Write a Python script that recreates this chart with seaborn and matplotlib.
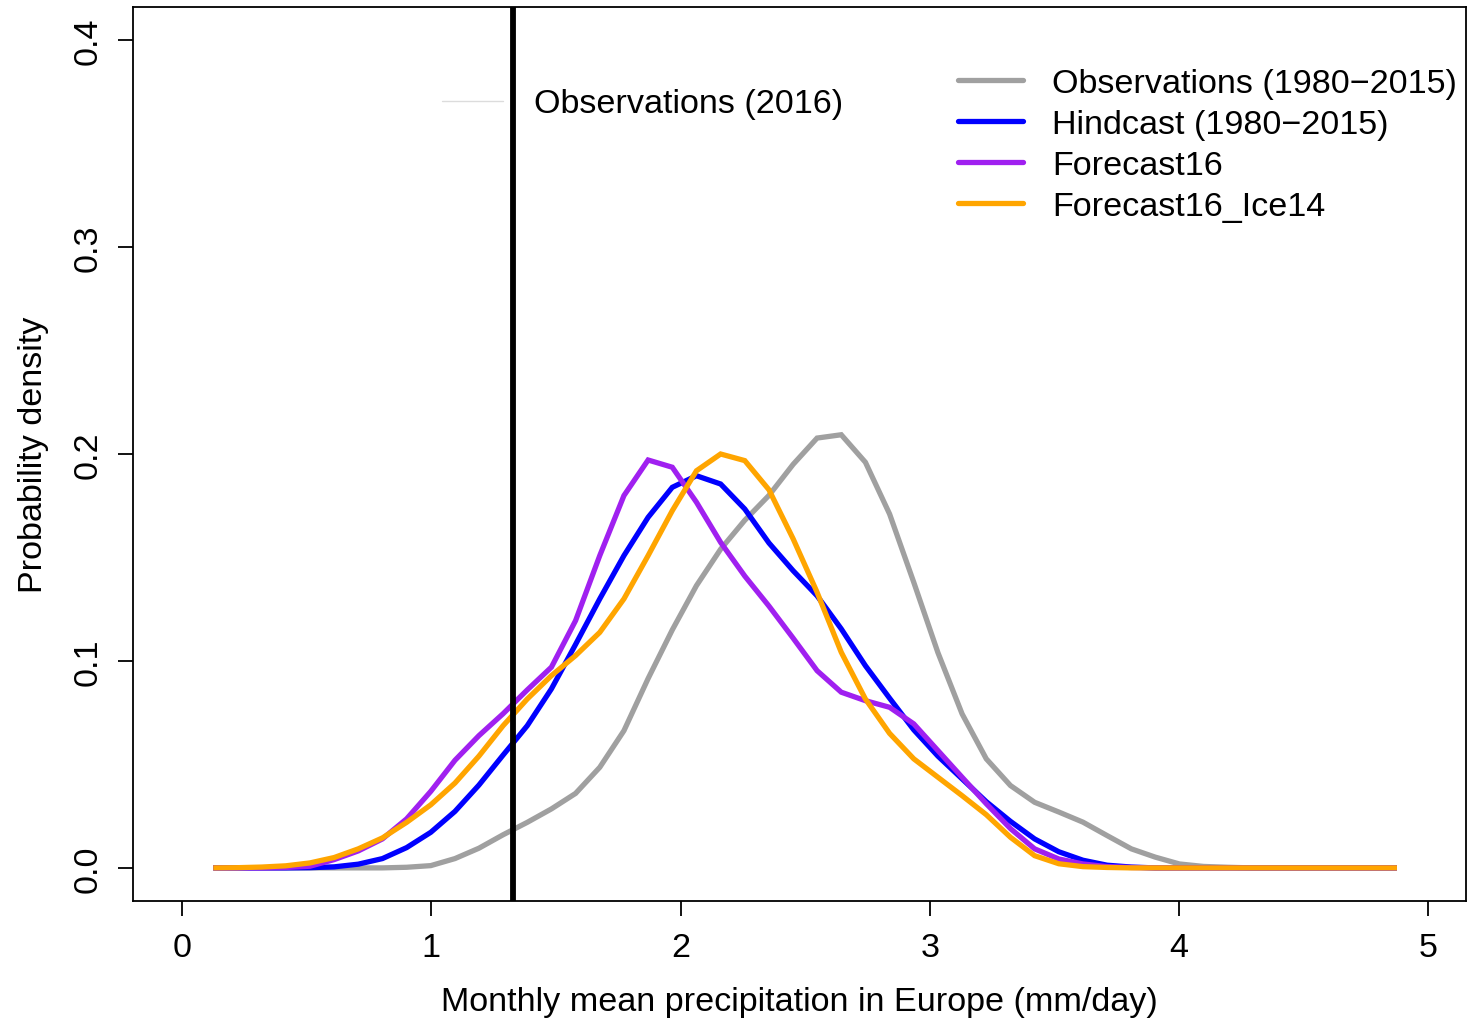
import numpy as np
import pandas as pd
import matplotlib
matplotlib.use("Agg")
import matplotlib.pyplot as plt
from matplotlib.lines import Line2D
import seaborn as sns

# Kernel density evaluation grid (mm/day)
precip_grid = [0.125, 0.222, 0.319, 0.416, 0.513, 0.610, 0.707, 0.804, 0.901, 0.998,
               1.095, 1.191, 1.288, 1.385, 1.482, 1.579, 1.676, 1.773, 1.870, 1.967,
               2.064, 2.161, 2.258, 2.355, 2.452, 2.548, 2.645, 2.742, 2.839, 2.936,
               3.033, 3.130, 3.227, 3.324, 3.421, 3.518, 3.615, 3.712, 3.809, 3.905,
               4.002, 4.099, 4.196, 4.293, 4.390, 4.487, 4.584, 4.681, 4.778, 4.875]

dens_obs = [0.0, 0.0, 0.0, 0.0, 0.0, 0.0, 0.0, 0.0, 0.0003, 0.0011,
            0.0045, 0.0095, 0.0160, 0.0220, 0.0285, 0.0360, 0.0486, 0.0663, 0.0915, 0.1150,
            0.1364, 0.1540, 0.1680, 0.1800, 0.1950, 0.2077, 0.2093, 0.1960, 0.1710, 0.1380,
            0.1040, 0.0744, 0.0527, 0.0398, 0.0317, 0.0270, 0.0221, 0.0156, 0.0092, 0.0052,
            0.0019, 0.0007, 0.0003, 0.0, 0.0, 0.0, 0.0, 0.0, 0.0, 0.0]

dens_hindcast = [0.0, 0.0, 0.0, 0.0, 0.0001, 0.0005, 0.0018, 0.0045, 0.0098, 0.0172,
                 0.0273, 0.0400, 0.0545, 0.0687, 0.0865, 0.1080, 0.1300, 0.1509, 0.1694, 0.1839,
                 0.1895, 0.1855, 0.1734, 0.1570, 0.1436, 0.1315, 0.1155, 0.0977, 0.0820, 0.0667,
                 0.0540, 0.0430, 0.0320, 0.0225, 0.0140, 0.0078, 0.0037, 0.0013, 0.0004, 0.0,
                 0.0, 0.0, 0.0, 0.0, 0.0, 0.0, 0.0, 0.0, 0.0, 0.0]

dens_fc16 = [0.0, 0.0, 0.0, 0.0002, 0.0008, 0.0040, 0.0082, 0.0140, 0.0237, 0.0370,
             0.0520, 0.0639, 0.0745, 0.0860, 0.0970, 0.1195, 0.1509, 0.1799, 0.1971, 0.1936,
             0.1767, 0.1573, 0.1410, 0.1265, 0.1110, 0.0953, 0.0849, 0.0808, 0.0776, 0.0696,
             0.0567, 0.0438, 0.0310, 0.0190, 0.0092, 0.0043, 0.0019, 0.0006, 0.0002, 0.0,
             0.0, 0.0, 0.0, 0.0, 0.0, 0.0, 0.0, 0.0, 0.0, 0.0]

dens_fc16_ice14 = [0.0, 0.0001, 0.0004, 0.0010, 0.0024, 0.0050, 0.0092, 0.0145, 0.0220, 0.0305,
                   0.0410, 0.0540, 0.0687, 0.0816, 0.0929, 0.1026, 0.1138, 0.1300, 0.1509, 0.1726,
                   0.1919, 0.2000, 0.1968, 0.1827, 0.1590, 0.1332, 0.1042, 0.0816, 0.0650, 0.0527,
                   0.0438, 0.0349, 0.0257, 0.0148, 0.0059, 0.0020, 0.0006, 0.0002, 0.0, 0.0,
                   0.0, 0.0, 0.0, 0.0, 0.0, 0.0, 0.0, 0.0, 0.0, 0.0]

obs_2016 = 1.328

series_names = ["Observations (1980\u22122015)", "Hindcast (1980\u22122015)",
                "Forecast16", "Forecast16_Ice14"]
series_colors = ["#A0A0A0", "#0000FF", "#A020F0", "#FFA500"]
x_ticks = [0, 1, 2, 3, 4, 5]
y_ticks = [0.0, 0.1, 0.2, 0.3, 0.4]
y_tick_labels = ["0.0", "0.1", "0.2", "0.3", "0.4"]

frames = []
for name, vals in zip(series_names, [dens_obs, dens_hindcast, dens_fc16, dens_fc16_ice14]):
    frames.append(pd.DataFrame({"precip": precip_grid, "density": vals, "series": name}))
df = pd.concat(frames, ignore_index=True)

sns.set_style("ticks")
plt.rcParams["font.family"] = ["Liberation Sans", "DejaVu Sans"]
plt.rcParams["text.color"] = "black"
plt.rcParams["axes.labelcolor"] = "black"
plt.rcParams["xtick.color"] = "black"
plt.rcParams["ytick.color"] = "black"
plt.rcParams["xtick.labelcolor"] = "black"
plt.rcParams["ytick.labelcolor"] = "black"
FS = 24.6

fig = plt.figure(figsize=(14.68, 10.20), dpi=100)
fig.subplots_adjust(left=133 / 1468, right=1466 / 1468, top=1 - 8 / 1020, bottom=1 - 902 / 1020)
ax = fig.add_subplot(111)

LW = 3.8
sns.lineplot(data=df, x="precip", y="density", hue="series", hue_order=series_names,
             palette=series_colors, linewidth=LW, sort=False, estimator=None,
             legend=False, ax=ax)
for ln in ax.lines:
    ln.set_solid_capstyle("butt")
    ln.set_solid_joinstyle("miter")

ax.axvline(obs_2016, color="black", linewidth=4.2, zorder=5)

ax.set_xlim(-0.197, 5.152)
ax.set_ylim(-0.016, 0.416)
ax.set_xticks(x_ticks)
ax.set_xticklabels([str(t) for t in x_ticks], fontsize=FS, color="black")
ax.set_yticks(y_ticks)
ax.set_yticklabels(y_tick_labels, fontsize=FS, rotation=90, va="center", color="black")
ax.tick_params(axis="both", direction="out", length=11, width=1.3, color="black")
ax.tick_params(axis="x", pad=11)
ax.tick_params(axis="y", pad=10)
for sp in ax.spines.values():
    sp.set_visible(True)
    sp.set_linewidth(1.3)
    sp.set_color("black")

ax.set_xlabel("Monthly mean precipitation in Europe (mm/day)", fontsize=FS, labelpad=17,
              color="black")
ax.set_ylabel("Probability density", fontsize=FS, labelpad=17, color="black")

handles = [Line2D([], [], color=c, linewidth=LW, solid_capstyle="round") for c in series_colors]
leg1 = ax.legend(handles, series_names, loc="upper left", frameon=False, fontsize=FS,
                 bbox_to_anchor=((958 - 133) / 1333, (902 - 69) / 894),
                 borderpad=0, borderaxespad=0, handlelength=1.9, handletextpad=0.85,
                 labelspacing=0.29, labelcolor="black")
ax.add_artist(leg1)

obs_handle = Line2D([], [], color="#DCDCDC", linewidth=1.0)
ax.legend([obs_handle], ["Observations (2016)"], loc="center left", frameon=False, fontsize=FS,
          bbox_to_anchor=((442 - 133) / 1333, (902 - 105) / 894),
          borderpad=0, borderaxespad=0, handlelength=1.78, handletextpad=0.9,
          labelcolor="black")

fig.savefig("out.png", dpi=100)
